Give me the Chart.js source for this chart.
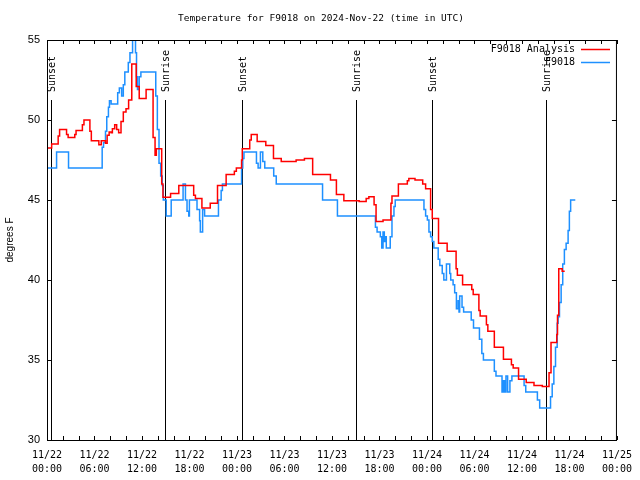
<!DOCTYPE html>
<html><head><meta charset="utf-8">
<script src="https://cdn.jsdelivr.net/npm/chart.js@4.4.1/dist/chart.umd.min.js"></script>
<style>html,body{margin:0;padding:0;background:#fff;}</style>
</head><body>
<canvas id="c" width="640" height="480"></canvas>
<script>
const titleText = 'Temperature for F9018 on 2024-Nov-22 (time in UTC)';
const yAxisTitle = 'degrees F';
const tickHours = [0, 6, 12, 18, 24, 30, 36, 42, 48, 54, 60, 66, 72];
const tickLabels = [['11/22','00:00'],['11/22','06:00'],['11/22','12:00'],['11/22','18:00'],['11/23','00:00'],['11/23','06:00'],['11/23','12:00'],['11/23','18:00'],['11/24','00:00'],['11/24','06:00'],['11/24','12:00'],['11/24','18:00'],['11/25','00:00']];
const yTickValues = [30, 35, 40, 45, 50, 55];
const seriesNames = ['F9018 Analysis', 'F9018'];
const sunHours = [0.50, 14.90, 24.58, 38.98, 48.61, 62.99];
const sunLabels = ['Sunset', 'Sunrise', 'Sunset', 'Sunrise', 'Sunset', 'Sunrise'];

// Observed (F9018) - hours since 2024-11-22 00:00 UTC
const obsHours = [0.00,1.21,2.72,6.97,7.14,7.39,7.55,7.76,7.89,8.10,8.93,9.14,9.43,9.64,9.83,10.27,10.48,10.81,11.18,11.31,11.43,11.65,11.86,13.74,13.94,14.15,14.36,14.56,14.69,15.06,15.69,17.19,17.49,17.69,17.91,17.99,18.95,19.28,19.37,19.66,19.91,21.66,22.00,22.16,24.58,24.73,24.88,26.46,26.67,26.96,27.26,27.51,28.64,28.96,34.81,36.69,41.49,41.70,42.11,42.29,42.45,42.61,42.74,42.86,43.36,43.58,43.83,43.99,47.62,47.83,48.05,48.25,48.46,48.67,48.87,49.42,49.62,49.93,50.13,50.46,50.88,51.00,51.30,51.50,51.72,51.93,52.05,52.13,52.43,52.63,53.59,53.88,54.63,54.93,55.13,56.51,56.72,57.48,57.64,57.81,57.98,58.19,58.48,58.73,60.27,60.48,61.95,62.24,63.61,63.82,64.03,64.24,64.45,64.57,64.74,64.95,65.15,65.36,65.58,65.83,65.99,66.15,66.74];
const obsTemps = [47,48,47,48.3,48.6,49.3,50.2,50.8,51.2,51,51.7,52,51.5,52.2,53,53.6,54.2,55,54.2,52.7,51.9,52.7,53,51.5,49.4,47.3,46.5,45.9,45,44,45,46,45,44.3,44,45,44.4,43.7,43,44.4,44,45,45.6,46,47,47.6,48,47.3,47,48,47.4,47,46.5,46,45,44,43.3,43,42.7,42,43,42.4,42.7,42,42.7,44,44.6,45,44.4,44,43.75,43,42.7,42.4,42,41.3,40.9,40.4,40,41,40.4,40,39.7,39.2,38.2,38.7,38,39,38.3,38,37.5,37,36.3,35.4,35,34.3,34,33,33.7,33,34,33,33.7,34,33.4,33,32.5,32,32.7,33.5,34.6,35.8,37.3,37.7,38.6,39.7,41,41.9,42.3,43.1,44.3,45,45];

// Analysis (F9018 Analysis)
const anaHours = [0.00,0.59,1.41,1.59,2.47,2.67,3.51,3.67,4.47,4.67,5.42,5.60,6.55,6.85,7.39,7.60,7.85,8.10,8.26,8.55,8.80,9.05,9.35,9.64,9.98,10.31,10.71,11.27,11.65,12.52,13.40,13.65,13.81,14.49,14.65,15.61,16.65,18.53,18.75,19.57,20.62,21.54,22.63,23.67,23.92,24.58,24.67,25.61,25.80,26.55,27.64,28.61,29.59,31.47,32.52,33.56,35.81,36.56,37.50,39.44,40.32,40.66,41.32,41.57,42.45,43.45,43.58,44.39,45.52,45.71,46.49,47.46,47.83,48.46,48.67,49.46,50.55,51.68,51.84,52.50,53.66,53.84,54.56,54.72,55.51,55.69,56.51,57.66,58.67,58.89,59.57,60.54,61.52,62.57,63.42,63.67,64.40,64.49,64.65,65.08,65.40];
const anaTemps = [48.25,48.5,49.0,49.4,49.1,48.9,49.1,49.35,49.7,50,49.3,48.7,48.45,48.7,48.55,49.05,49.25,49.2,49.45,49.7,49.4,49.2,49.9,50.5,50.7,51.25,53.5,52.1,51.35,51.9,48.9,47.8,48.2,46,45.17,45.4,45.9,45.3,45.1,44.5,44.8,45.9,46.6,46.8,47,47.5,48.2,48.75,49.1,48.65,48.4,47.6,47.4,47.5,47.6,46.6,46.25,45.35,44.95,44.9,45.1,45.2,44.7,43.65,43.75,44.8,45.25,46.0,46.2,46.35,46.25,46.0,45.7,44.4,43.85,42.3,41.8,40.7,40.3,39.7,39.4,39.1,38.1,37.75,37.2,36.8,35.8,35.05,34.7,34.5,33.8,33.6,33.4,33.35,34.2,36.1,36.6,37.8,40.7,40.55,40.55];

const MONO = '"DejaVu Sans Mono", "Liberation Mono", monospace';
const SANS = '"Liberation Sans", Arial, sans-serif';
const RED = '#ff0000';
const BLUE = '#1e90ff';

const toPts = (hs, ts) => hs.map((h, i) => ({x: h, y: ts[i]}));

const decor = {
  id: 'decor',
  beforeDatasetsDraw(chart) {
    const ctx = chart.ctx, xs = chart.scales.x, ca = chart.chartArea;
    ctx.save();
    ctx.strokeStyle = '#000'; ctx.lineWidth = 1;
    ctx.fillStyle = '#000';
    ctx.font = '10px ' + MONO;
    sunHours.forEach((h, i) => {
      const px = Math.round(xs.getPixelForValue(h)) + 0.5;
      ctx.beginPath(); ctx.moveTo(px, 100); ctx.lineTo(px, ca.bottom); ctx.stroke();
      ctx.save();
      ctx.translate(px + 1, 92);
      ctx.rotate(-Math.PI / 2);
      ctx.textAlign = 'left'; ctx.textBaseline = 'middle';
      ctx.fillText(sunLabels[i], 0, 0);
      ctx.restore();
    });
    ctx.restore();
  },
  afterDraw(chart) {
    const ctx = chart.ctx, xs = chart.scales.x, ys = chart.scales.y, ca = chart.chartArea;
    ctx.save();
    ctx.strokeStyle = '#000'; ctx.lineWidth = 1;
    ctx.strokeRect(ca.left + 0.5, ca.top + 0.5, ca.right - ca.left - 1, ca.bottom - ca.top);
    ctx.beginPath();
    for (let h = xs.min; h <= xs.max; h += 2) {
      const px = Math.round(xs.getPixelForValue(h)) + 0.5;
      ctx.moveTo(px, ca.bottom); ctx.lineTo(px, ca.bottom - 4);
      ctx.moveTo(px, ca.top); ctx.lineTo(px, ca.top + 4);
    }
    yTickValues.forEach(v => {
      const py = Math.round(ys.getPixelForValue(v)) + 0.5;
      ctx.moveTo(ca.left, py); ctx.lineTo(ca.left + 5, py);
      ctx.moveTo(ca.right, py); ctx.lineTo(ca.right - 5, py);
    });
    ctx.stroke();
    // title
    ctx.fillStyle = '#000';
    ctx.font = '9.5px ' + MONO;
    ctx.textAlign = 'center'; ctx.textBaseline = 'middle';
    ctx.fillText(titleText, 321, 19);
    // legend
    ctx.font = '10px ' + MONO;
    ctx.textAlign = 'right';
    const colors = [RED, BLUE];
    seriesNames.forEach((n, i) => {
      const ly = 49 + i * 13;
      ctx.fillStyle = '#000';
      ctx.fillText(n, 575, ly);
      ctx.strokeStyle = colors[i]; ctx.lineWidth = 1.5;
      ctx.beginPath(); ctx.moveTo(581, ly + 0.5); ctx.lineTo(610, ly + 0.5); ctx.stroke();
    });
    ctx.restore();
  }
};

new Chart(document.getElementById('c'), {
  type: 'line',
  data: {
    datasets: [
      {label: seriesNames[0], data: toPts(anaHours, anaTemps), borderColor: RED, borderWidth: 1.5, pointRadius: 0, stepped: 'before', fill: false},
      {label: seriesNames[1], data: toPts(obsHours, obsTemps), borderColor: BLUE, borderWidth: 1.5, pointRadius: 0, stepped: 'before', fill: false}
    ]
  },
  options: {
    responsive: false,
    animation: false,
    devicePixelRatio: 1,
    layout: {padding: {left: 0, top: 40, right: 18, bottom: 0}},
    plugins: {legend: {display: false}, tooltip: {enabled: false}, title: {display: false}},
    scales: {
      x: {
        type: 'linear', min: 0, max: 72,
        afterBuildTicks: s => { s.ticks = tickHours.map(v => ({value: v})); },
        afterFit: s => { s.height = 40; },
        grid: {display: false, drawTicks: false, tickLength: 0},
        border: {display: false},
        ticks: {
          autoSkip: false, maxRotation: 0, minRotation: 0, padding: 8, color: '#000',
          font: {family: MONO, size: 10, lineHeight: 1.4},
          callback: v => tickLabels[tickHours.indexOf(v)]
        }
      },
      y: {
        min: 30, max: 55,
        afterBuildTicks: s => { s.ticks = yTickValues.map(v => ({value: v})); },
        afterFit: s => { s.width = 47; },
        grid: {display: false, drawTicks: false, tickLength: 0},
        border: {display: false},
        ticks: {padding: 7, color: '#000', font: {family: SANS, size: 11}},
        title: {display: true, text: yAxisTitle, color: '#000', font: {family: SANS, size: 10}, padding: {top: 4, bottom: 0}}
      }
    }
  },
  plugins: [decor]
});
</script>
</body></html>
